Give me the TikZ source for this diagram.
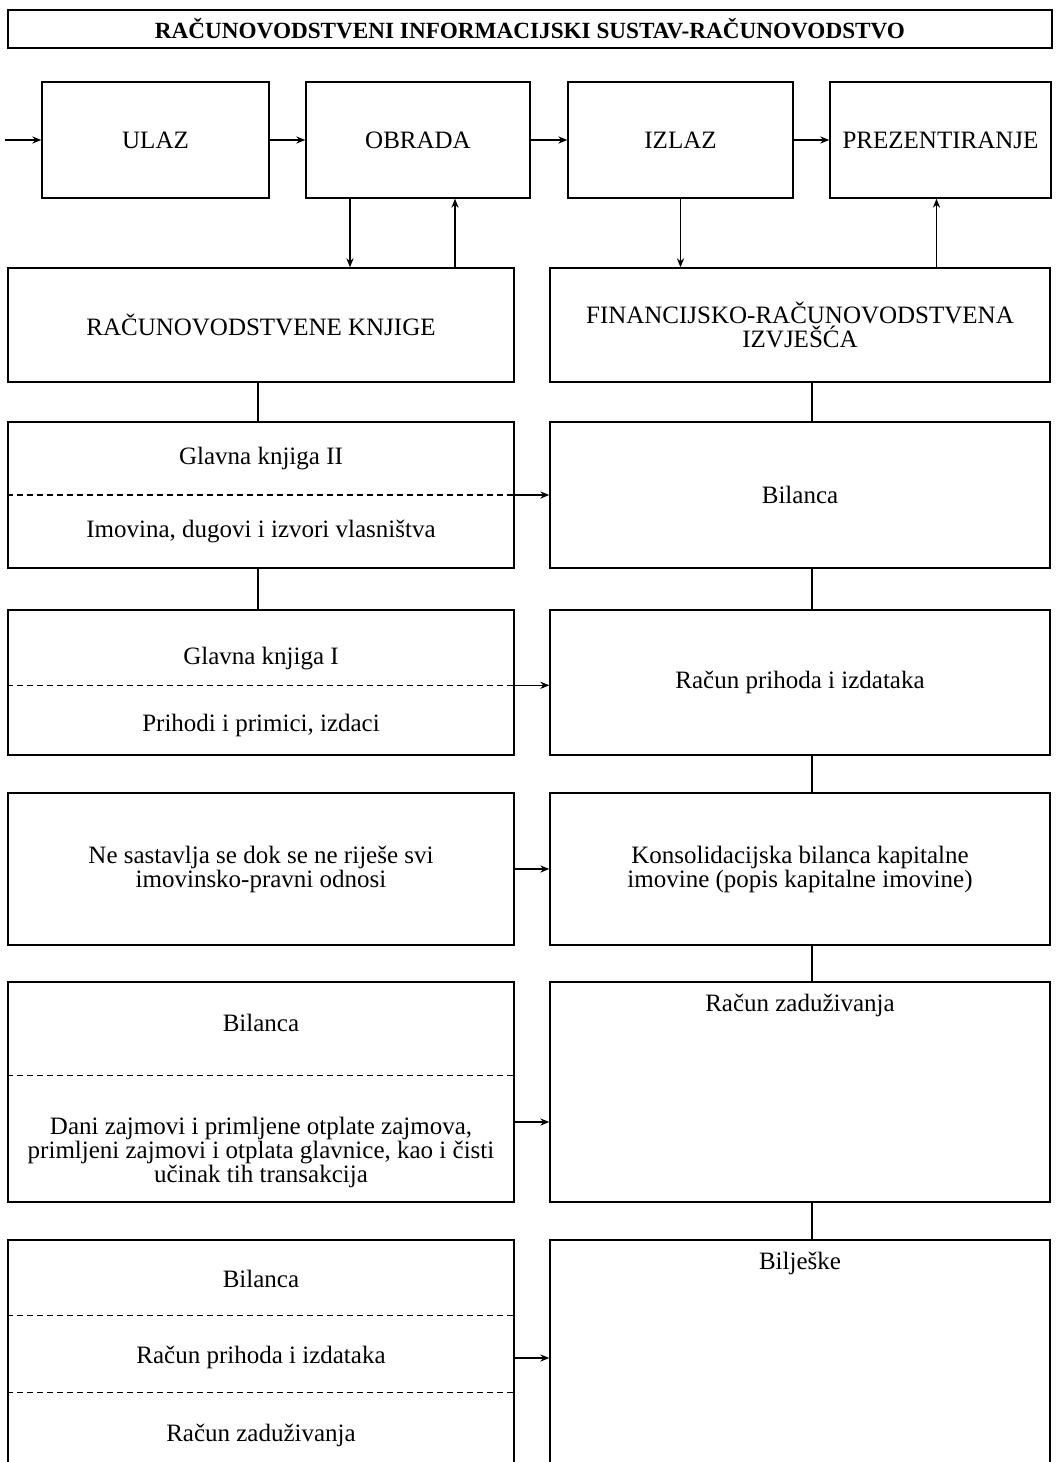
\documentclass[tikz,border=0pt]{standalone}
\usepackage{fontspec}
\setmainfont{Liberation Serif}
\usetikzlibrary{arrows.meta, positioning, calc}
\tikzset{
	box/.style      ={rectangle, draw=black, line width=0.7pt, align=center, inner sep=2pt},
	txt/.style      ={align=center, inner sep=1pt},
	flowarrow/.style={-{Stealth[length=4.5pt, width=3.6pt]}, line width=0.7pt},
	link/.style     ={line width=0.7pt},
	divider/.style  ={line width=0.65pt, dash pattern=on 3pt off 2pt},
}

\begin{document}
\begin{tikzpicture}[x=0.5pt, y=-0.5pt, font=\fontsize{12.5}{12}\selectfont]
	\clip (0,0) rectangle (1056,1462);
	% ---------- title ----------
	\node[box, minimum width=522pt, minimum height=19pt, font=\fontsize{11.6}{12}\selectfont\bfseries] (title) at (530,29) {RAČUNOVODSTVENI INFORMACIJSKI SUSTAV-RAČUNOVODSTVO};
	% ---------- process row ----------
	\node[box, minimum width=113.5pt, minimum height=58pt] (ulaz) at (155.5,140) {ULAZ};
	\node[box, minimum width=112pt, minimum height=58pt] (obrada) at (418,140) {OBRADA};
	\node[box, minimum width=112.5pt, minimum height=58pt] (izlaz) at (680.5,140) {IZLAZ};
	\node[box, minimum width=110.5pt, minimum height=58pt] (prez) at (940.5,140) {PREZENTIRANJE};
	\coordinate (start) at (5,140);
	\draw[flowarrow] (start) -- (ulaz);
	\draw[flowarrow] (ulaz) -- (obrada);
	\draw[flowarrow] (obrada) -- (izlaz);
	\draw[flowarrow] (izlaz) -- (prez);
	% ---------- books and reports ----------
	\node[box, minimum width=253pt, minimum height=57pt] (knjige) at (261,325) {RAČUNOVODSTVENE KNJIGE};
	\node[box, minimum width=250pt, minimum height=57pt] (fri) at (800,325) {FINANCIJSKO-RAČUNOVODSTVENA\\IZVJEŠĆA};
	\draw[flowarrow] ([xshift=-34pt]obrada.south) -- ([xshift=-34pt]obrada.south |- knjige.north);
	\draw[flowarrow] ([xshift=18.5pt]obrada.south |- knjige.north) -- ([xshift=18.5pt]obrada.south);
	\draw[flowarrow] (izlaz.south) -- (izlaz.south |- fri.north);
	\draw[flowarrow] ([xshift=-2pt]prez.south |- fri.north) -- ([xshift=-2pt]prez.south);
	% ---------- left column ----------
	\node[box, minimum width=253pt, minimum height=73pt] (gk2) at (261,495) {};
	\node[box, minimum width=253pt, minimum height=72.5pt] (gk1) at (261,682.5) {};
	\node[box, minimum width=253pt, minimum height=76pt] (nesast) at (261,869) {Ne sastavlja se dok se ne riješe svi\\imovinsko-pravni odnosi};
	\node[box, minimum width=253pt, minimum height=110pt] (bil2) at (261,1092) {};
	\node[box, minimum width=253pt, minimum height=118pt] (zbir) at (261,1358) {};
	% sections
	\draw[divider] (gk2.west) -- (gk2.east);
	\node[txt] at ($(gk2.north)+(0,37)$) {Glavna knjiga II};
	\node[txt] at ($(gk2.south)+(0,-37)$) {Imovina, dugovi i izvori vlasništva};
	\coordinate (gk1cut) at ($(gk1.north)+(0,76)$);
	\draw[divider] (gk1.west |- gk1cut) -- (gk1.east |- gk1cut);
	\node[txt] at ($(gk1.north)+(0,49)$) {Glavna knjiga I};
	\node[txt] at ($(gk1.south)+(0,-30)$) {Prihodi i primici, izdaci};
	\coordinate (bil2cut) at ($(bil2.north)+(0,94)$);
	\draw[divider] (bil2.west |- bil2cut) -- (bil2.east |- bil2cut);
	\node[txt] at ($(bil2.north)+(0,42)$) {Bilanca};
	\node[txt] at ($(bil2.north)+(0,171)$) {Dani zajmovi i primljene otplate zajmova,\\primljeni zajmovi i otplata glavnice, kao i čisti\\učinak tih transakcija};
	\coordinate (zbircut1) at ($(zbir.north)+(0,76)$);
	\coordinate (zbircut2) at ($(zbir.north)+(0,153)$);
	\draw[divider] (zbir.west |- zbircut1) -- (zbir.east |- zbircut1);
	\draw[divider] (zbir.west |- zbircut2) -- (zbir.east |- zbircut2);
	\node[txt] at ($(zbir.north)+(0,40)$) {Bilanca};
	\node[txt] at ($(zbir.north)+(0,118)$) {Račun prihoda i izdataka};
	\node[txt] at ($(zbir.north)+(0,196)$) {Račun zaduživanja};
	% ---------- right column ----------
	\node[box, minimum width=250pt, minimum height=73pt] (bil1) at (800,495) {Bilanca};
	\node[box, minimum width=250pt, minimum height=72.5pt] (rpi) at (800,682.5) {Račun prihoda i izdataka};
	\node[box, minimum width=250pt, minimum height=76pt] (kons) at (800,869) {Konsolidacijska bilanca kapitalne\\imovine (popis kapitalne imovine)};
	\node[box, minimum width=250pt, minimum height=110pt] (rzad) at (800,1092) {};
	\node[box, minimum width=250pt, minimum height=118pt] (bilj) at (800,1358) {};
	\node[txt] at ($(rzad.north)+(0,24)$) {Račun zaduživanja};
	\node[txt] at ($(bilj.north)+(0,24)$) {Bilješke};
	% ---------- links ----------
	\draw[link] ([xshift=-1.5pt]knjige.south) -- ([xshift=-1.5pt]gk2.north);
	\draw[link] ([xshift=-1.5pt]gk2.south) -- ([xshift=-1.5pt]gk1.north);
	\draw[link] ([xshift=6pt]fri.south) -- ([xshift=6pt]bil1.north);
	\draw[link] ([xshift=6pt]bil1.south) -- ([xshift=6pt]rpi.north);
	\draw[link] ([xshift=6pt]rpi.south) -- ([xshift=6pt]kons.north);
	\draw[link] ([xshift=6pt]kons.south) -- ([xshift=6pt]rzad.north);
	\draw[link] ([xshift=6pt]rzad.south) -- ([xshift=6pt]bilj.north);
	\draw[flowarrow] (gk2.east) -- (bil1.west);
	\draw[flowarrow] (gk1.east |- gk1cut) -- (rpi.west |- gk1cut);
	\draw[flowarrow] (nesast.east) -- (kons.west);
	\draw[flowarrow] ([yshift=-15pt]bil2.east) -- ([yshift=-15pt]rzad.west);
	\draw[flowarrow] (zbir.east) -- (bilj.west);
\end{tikzpicture}
\end{document}
